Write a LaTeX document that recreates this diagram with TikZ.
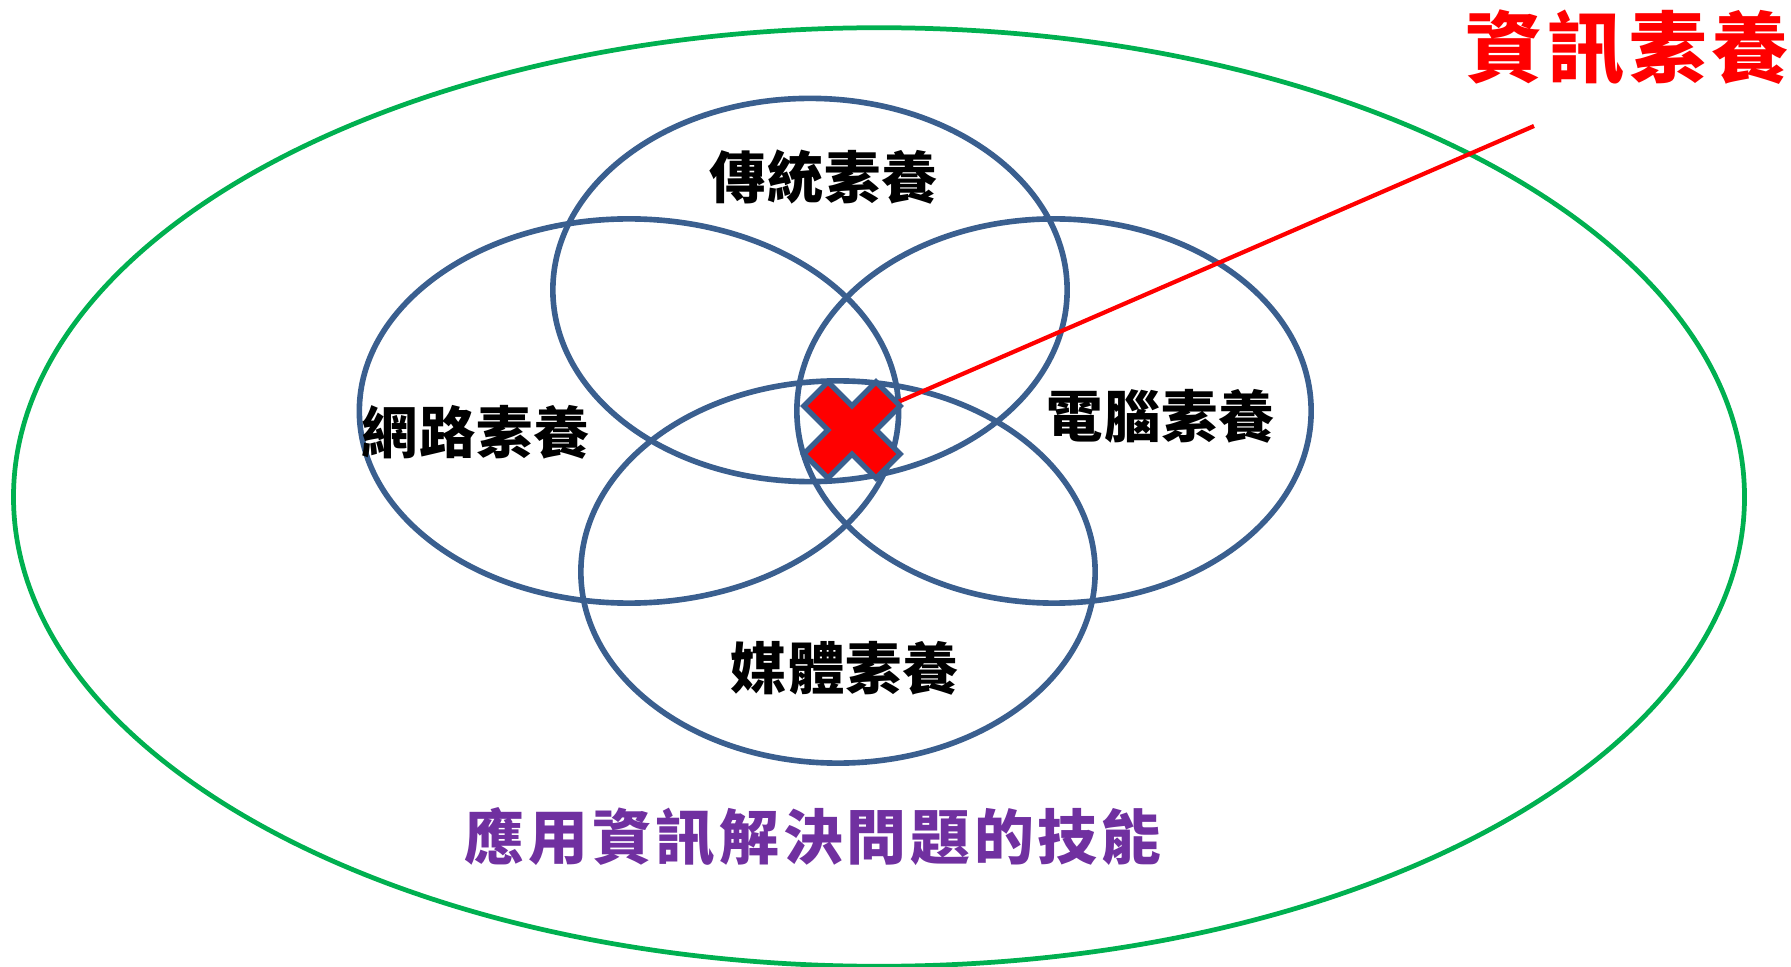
\documentclass[tikz,border=0pt]{standalone}
\usepackage{fontspec}
\usetikzlibrary{shapes.geometric}
\newfontfamily\cjk{Noto Sans CJK TC}[LetterSpace=2]
\newfontfamily\cjkwide{Noto Sans CJK TC}[LetterSpace=6.5]
\newfontfamily\cjkred{Noto Sans CJK TC}[LetterSpace=6]
\definecolor{ringblue}{HTML}{3A5F8F}
\definecolor{outergreen}{HTML}{00B050}
\definecolor{skillpurple}{HTML}{7030A0}
\definecolor{markred}{HTML}{FF0000}
\tikzset{
  ring/.style={draw=ringblue, line width=1.6pt, ellipse, inner sep=0pt, outer sep=0pt},
  lit/.style={font=\cjk\bfseries\fontsize{16}{18}\selectfont, text=black, inner sep=0pt},
  xmark/.style={fill=markred, draw=ringblue, line width=1.5pt, line join=miter},
}
\begin{document}
\begin{tikzpicture}[x=0.01cm, y=-0.01cm]
\useasboundingbox (0,0) rectangle (1791,967);
% outer ellipse
\node[draw=outergreen, line width=1.35pt, ellipse, inner sep=0pt, minimum width=17.30cm, minimum height=9.38cm] (outer) at (879,497) {};
% four literacy ellipses
\node[ring, minimum width=5.14cm, minimum height=3.83cm] (trad) at (810,290) {};
\node[ring, minimum width=5.39cm, minimum height=3.84cm] (net) at (629,411) {};
\node[ring, minimum width=5.14cm, minimum height=3.84cm] (comp) at (1054,411) {};
\node[ring, minimum width=5.14cm, minimum height=3.82cm] (media) at (838,572) {};
% labels
\node[lit] (tradl) at (824,177) {傳統素養};
\node[lit] (netl) at (476,432) {網路素養};
\node[lit] (compl) at (1161,416) {電腦素養};
\node[lit] (medial) at (845,668) {媒體素養};
\node[font=\cjkwide\bfseries\fontsize{17}{19}\selectfont, text=skillpurple, inner sep=0pt] (skill) at (813,837) {應用資訊解決問題的技能};
\node[font=\cjkred\bfseries\fontsize{22}{24}\selectfont, text=markred, inner sep=0pt] (title) at (1627,48) {資訊素養};
% pointer line
\coordinate (xne) at (898,402);
\coordinate (lineend) at (1534,126);
\draw[markred, line width=1.2pt] (xne) -- (lineend);
% cross mark
\begin{scope}[shift={(852,430)}, rotate=45]
\draw[xmark] (17,17) -- (51,17) -- (51,-17) -- (17,-17) -- (17,-51) -- (-17,-51) -- (-17,-17) -- (-51,-17) -- (-51,17) -- (-17,17) -- (-17,51) -- (17,51) -- cycle;
\end{scope}
\end{tikzpicture}
\end{document}
